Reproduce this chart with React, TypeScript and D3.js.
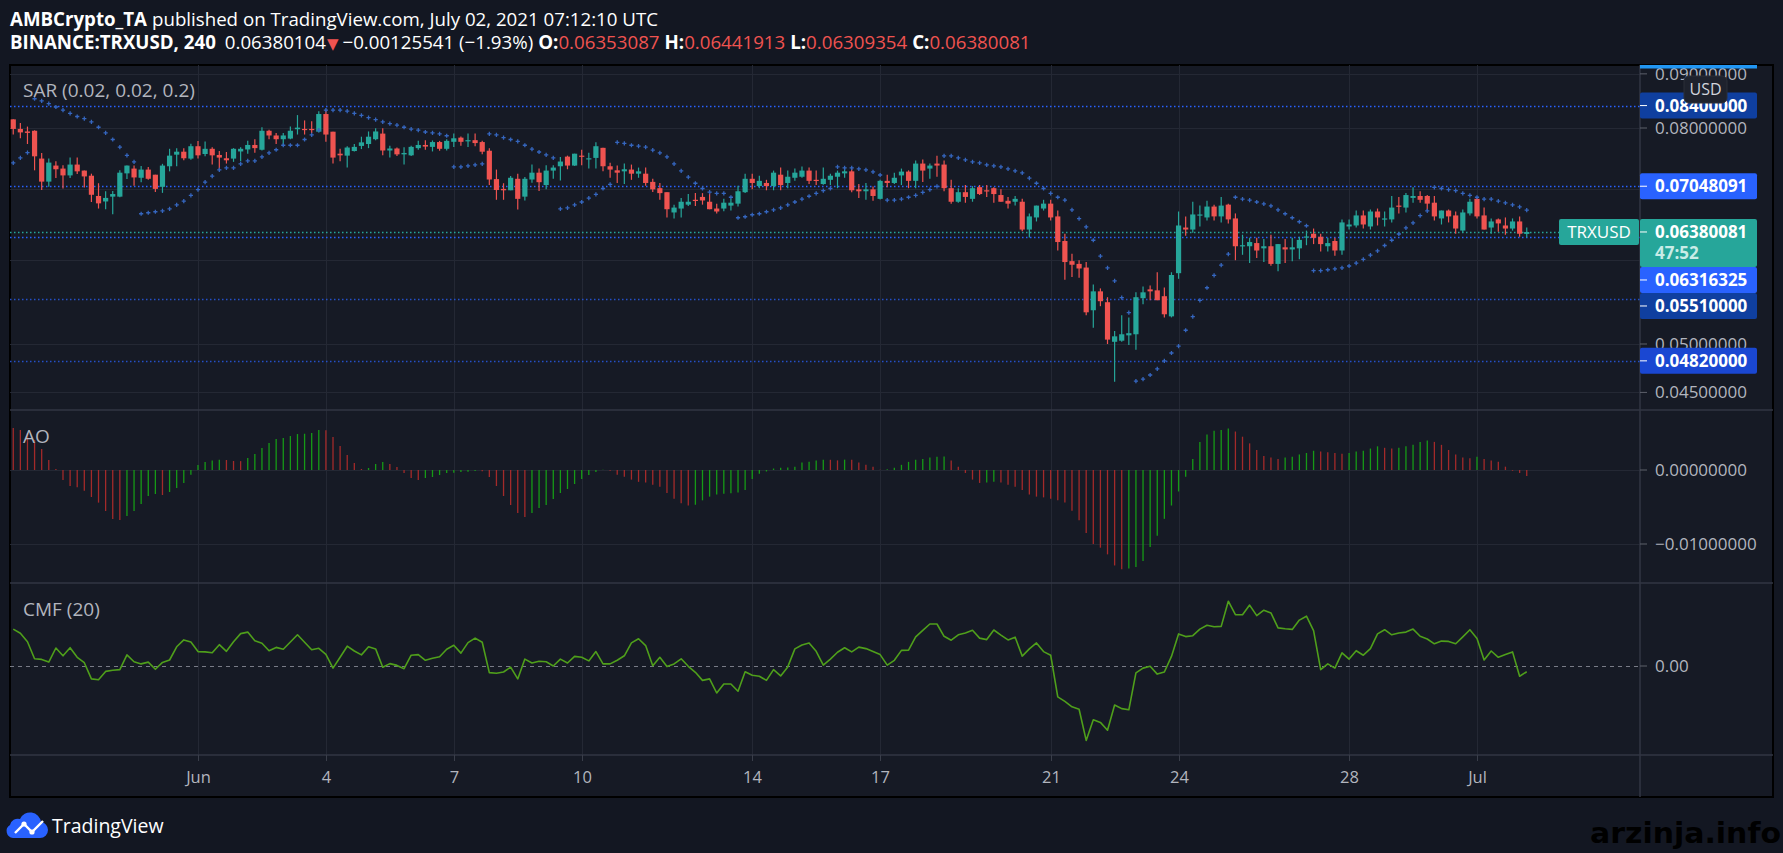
import React, { useEffect, useRef } from 'react'
import * as d3 from 'd3'

// 4h candles, first one opens 27 May 2021 16:00 UTC
const firstBarTime = Date.UTC(2021, 4, 27, 16)
const barMs = 4 * 3600 * 1000

const opens = [
  .08152,.07984,.07940,.07952,.07485,.07119,.07372,.07324,.07216,.07388,.07292,.07211,.06900,.06818,.06890,.06890,.07248,.07324,.07179,.07308,.07227,.07039,.07361,.07549,.07598,.07485,
  .07689,.07560,.07646,.07544,.07490,.07485,.07602,.07635,.07710,.07630,
  .07952,.07871,.07807,.07818,.07979,.07984,.07984,.07936,.08247,.07936,
  .07565,.07533,.07609,.07694,.07726,.07807,.07903,.07618,.07651,.07554,
  .07538,.07657,.07710,.07678,.07759,.07646,.07763,.07834,.07779,.07791,
  .07759,.07614,.07158,.07007,.06986,.07163,.06890,.07152,.07259,.07066,
  .07292,.07361,.07517,.07372,.07533,.07480,.07496,.07662,.07361,.07296,
  .07280,.07308,.07243,.07243,.07115,.07018,.06957,.06657,.06714,.06771,
  .06843,.06886,.06814,.06714,.06714,.06757,.06786,.06957,.07163,.07050,
  .07098,.07050,.07227,.07098,.07179,.07195,.07292,.07147,.07082,.07147,
  .07195,.07248,.07280,.07000,.06971,.07000,.06857,.07131,.07098,.07216,
  .07276,.07131,.07404,.07324,.07404,.07388,.07018,.06814,.06957,.06857,
  .07034,.06986,.07018,.06914,.06828,.06814,.06814,.06414,.06585,.06714,
  .06786,.06600,.06256,.05988,.05952,.05905,.05381,.05607,.05476,.05024,
  .05036,.05095,.05107,.05524,.05631,.05619,.05548,.05310,.05833,.06442,
  .06414,.06618,.06585,.06743,.06600,.06771,.06571,.06185,.06185,.06228,
  .06157,.06185,.05952,.06171,.06142,.06157,.06304,.06356,.06314,.06185,
  .06256,.06128,.06457,.06471,.06614,.06457,.06671,.06561,.06557,.06757,
  .06728,.06871,.06900,.06900,.06800,.06571,.06685,.06614,.06400,.06643,
  .06857,.06614,.06442,.06557,.06471,.06428,.06528,.06353,
]
const highs = [
  .08152,.08089,.08025,.07960,.07577,.07485,.07441,.07377,.07501,.07501,.07292,.07243,.07094,.06971,.06976,.07296,.07372,.07372,.07367,.07351,.07227,.07400,.07646,.07657,.07657,.07731,
  .07775,.07770,.07673,.07609,.07593,.07657,.07673,.07779,.07807,.08013,
  .07968,.07915,.07915,.08025,.08228,.08133,.08120,.08298,.08323,.07936,
  .07646,.07689,.07726,.07850,.07940,.07995,.07995,.07699,.07667,.07673,
  .07699,.07779,.07791,.07786,.07779,.07807,.07903,.07855,.07903,.07903,
  .07779,.07657,.07308,.07094,.07206,.07243,.07190,.07388,.07324,.07377,
  .07377,.07512,.07533,.07565,.07630,.07581,.07754,.07662,.07416,.07372,
  .07404,.07388,.07340,.07340,.07163,.07098,.06957,.06771,.06871,.06929,
  .06943,.06943,.06943,.06786,.06857,.06857,.07055,.07243,.07243,.07211,
  .07147,.07292,.07340,.07292,.07324,.07356,.07340,.07292,.07340,.07243,
  .07292,.07340,.07324,.07082,.07098,.07045,.07147,.07227,.07259,.07324,
  .07296,.07453,.07469,.07404,.07533,.07453,.07147,.07018,.07066,.07050,
  .07066,.07066,.07034,.07000,.06886,.06900,.06857,.06643,.06757,.06843,
  .06843,.06685,.06356,.06086,.06000,.05976,.05691,.05643,.05536,.05143,
  .05322,.05298,.05595,.05667,.05679,.05845,.05655,.05845,.06671,.06600,
  .06814,.06757,.06828,.06771,.06886,.06786,.06643,.06342,.06299,.06299,
  .06285,.06342,.06214,.06285,.06299,.06314,.06399,.06428,.06356,.06299,
  .06299,.06557,.06557,.06685,.06685,.06700,.06714,.06671,.06900,.06886,
  .06943,.07034,.06971,.06914,.06900,.06685,.06700,.06671,.06700,.06857,
  .06871,.06728,.06571,.06571,.06585,.06571,.06600,.06442,
]
const lows = [
  .07887,.07823,.07726,.07296,.06990,.07039,.07174,.07013,.07174,.07238,.07029,.06810,.06714,.06704,.06632,.06881,.07158,.07055,.07110,.07147,.06961,.06947,.07280,.07361,.07457,.07464,
  .07485,.07522,.07388,.07313,.07404,.07432,.07441,.07565,.07581,.07619,
  .07807,.07726,.07689,.07807,.07887,.07887,.07915,.07924,.07763,.07404,
  .07441,.07340,.07602,.07641,.07657,.07791,.07538,.07501,.07528,.07388,
  .07528,.07630,.07630,.07602,.07614,.07618,.07678,.07699,.07678,.07689,
  .07554,.07066,.06843,.06843,.06986,.06700,.06833,.07103,.06976,.07000,
  .07163,.07135,.07313,.07367,.07377,.07324,.07324,.07280,.07179,.07098,
  .07082,.07147,.07179,.07055,.06961,.06843,.06585,.06571,.06585,.06753,
  .06753,.06771,.06704,.06643,.06675,.06685,.06743,.06943,.07000,.07018,
  .06986,.06986,.06986,.07018,.07131,.07179,.07082,.07066,.07071,.07066,
  .07018,.07179,.06957,.06871,.06843,.06828,.06847,.07034,.07082,.07066,
  .07018,.07018,.07115,.07163,.07195,.06971,.06786,.06800,.06800,.06814,
  .06914,.06886,.06800,.06814,.06714,.06757,.06389,.06304,.06528,.06685,
  .06542,.06128,.05750,.05786,.05774,.05322,.05179,.05429,.05000,.04605,
  .05024,.04990,.04938,.05453,.05500,.05500,.05298,.05298,.05762,.06328,
  .06370,.06457,.06542,.06542,.06514,.06500,.06000,.06071,.05964,.06028,
  .05976,.05929,.05857,.05964,.05988,.06014,.06199,.06214,.06114,.06114,
  .06057,.06071,.06414,.06442,.06428,.06414,.06471,.06457,.06514,.06643,
  .06657,.06800,.06800,.06685,.06542,.06485,.06514,.06356,.06370,.06614,
  .06571,.06414,.06356,.06385,.06342,.06399,.06314,.06309,
]
const closes = [
  .07984,.07924,.07915,.07522,.07119,.07420,.07313,.07216,.07388,.07280,.07200,.06918,.06790,.06871,.06929,.07259,.07372,.07184,.07308,.07163,.07007,.07372,.07533,.07598,.07490,.07689,
  .07538,.07646,.07538,.07501,.07457,.07646,.07646,.07710,.07657,.07952,
  .07871,.07807,.07871,.07952,.08006,.07973,.07973,.08247,.07887,.07501,
  .07538,.07667,.07678,.07754,.07850,.07940,.07618,.07651,.07554,.07577,
  .07678,.07710,.07683,.07759,.07646,.07779,.07823,.07763,.07791,.07742,
  .07598,.07152,.06990,.06986,.07179,.06857,.07163,.07259,.07110,.07292,
  .07340,.07437,.07372,.07565,.07522,.07490,.07689,.07361,.07308,.07259,
  .07313,.07243,.07280,.07098,.07000,.06943,.06704,.06728,.06814,.06814,
  .06833,.06833,.06704,.06671,.06800,.06800,.06971,.07163,.07098,.07131,
  .07050,.07259,.07066,.07195,.07259,.07292,.07131,.07131,.07163,.07211,
  .07259,.07280,.06986,.06971,.07000,.06900,.07131,.07098,.07179,.07276,
  .07131,.07404,.07292,.07372,.07372,.07018,.06814,.06957,.06886,.07018,
  .06929,.06976,.06929,.06814,.06786,.06857,.06414,.06600,.06757,.06786,
  .06585,.06242,.05976,.05941,.05893,.05357,.05607,.05488,.05048,.05084,
  .05107,.05119,.05536,.05595,.05607,.05500,.05334,.05810,.06471,.06414,
  .06628,.06628,.06743,.06600,.06757,.06557,.06185,.06199,.06242,.06128,
  .06185,.05952,.06214,.06142,.06171,.06271,.06318,.06299,.06214,.06228,
  .06128,.06514,.06485,.06614,.06485,.06671,.06585,.06571,.06728,.06747,
  .06914,.06900,.06843,.06786,.06600,.06685,.06600,.06428,.06657,.06814,
  .06600,.06414,.06528,.06500,.06428,.06528,.06356,.06380,
]
const sarValues = [
  .07416,.07496,.07581,.08526,.08488,.08437,.08374,.08317,.08260,.08203,.08165,.08108,.08013,.07915,.07802,.07673,.07538,.07432,.06638,.06653,.06667,.06681,.06710,.06767,.06824,.06910,
  .06996,.07110,.07206,.07303,.07335,.07335,.07400,.07448,.07448,.07512,
  .07577,.07630,.07705,.07705,.07705,.07802,.07882,.07963,.08317,.08317,
  .08317,.08298,.08260,.08222,.08184,.08146,.08108,.08076,.08051,.08013,
  .07979,.07963,.07931,.07915,.07899,.07866,.07351,.07351,.07367,.07383,
  .07400,.07899,.07882,.07834,.07802,.07770,.07705,.07641,.07593,.07544,
  .07496,.06710,.06724,.06767,.06810,.06867,.06924,.07013,.07077,.07754,
  .07738,.07705,.07689,.07673,.07625,.07577,.07512,.07400,.07287,.07190,
  .07094,.07013,.06957,.06939,.06939,.06881,.06581,.06595,.06624,.06638,
  .06667,.06695,.06724,.06767,.06810,.06853,.06896,.06939,.06981,.07013,
  .07351,.07335,.07335,.07319,.07303,.07271,.07222,.06838,.06838,.06853,
  .06881,.06910,.06953,.06996,.07045,.07528,.07528,.07496,.07464,.07432,
  .07416,.07383,.07367,.07351,.07319,.07287,.07255,.07174,.07094,.07013,
  .06939,.06881,.06838,.06695,.06567,.06452,.06266,.06053,.05901,.05735,
  .05532,.05354,.04612,.04633,.04674,.04737,.04820,.04903,.04976,.05152,
  .05306,.05497,.05651,.05806,.05937,.06081,.06881,.06853,.06838,.06810,
  .06781,.06753,.06695,.06638,.06581,.06524,.06467,.05866,.05866,.05877,
  .05889,.05901,.05925,.05961,.06010,.06067,.06124,.06195,.06266,.06352,
  .06438,.06509,.06610,.06681,.07029,.07013,.06996,.06981,.06939,.06910,
  .06881,.06853,.06853,.06824,.06796,.06767,.06738,.06690,
]
const aoValues = [
  .00568,.00541,.00496,.00405,.00284,.00135,.00014,-.00135,-.00216,-.00234,-.00279,-.00365,-.00441,-.00554,-.00662,-.00676,-.00622,-.00554,-.00459,-.00351,-.00324,-.00338,-.00297,-.00243,-.00176,-.00063,
  .00068,.00108,.00130,.00138,.00135,.00122,.00120,.00162,.00216,.00297,
  .00365,.00419,.00432,.00459,.00486,.00490,.00500,.00541,.00538,.00446,
  .00324,.00203,.00095,.00014,.00027,.00081,.00108,.00081,.00041,-.00041,
  -.00108,-.00135,-.00108,-.00095,-.00068,-.00041,-.00036,-.00027,-.00022,-.00014,
  -.00018,-.00095,-.00216,-.00351,-.00473,-.00581,-.00635,-.00581,-.00514,-.00473,
  -.00392,-.00311,-.00257,-.00189,-.00122,-.00068,-.00027,.00002,-.0001,-.00063,
  -.0009,-.0013,-.0016,-.0017,-.002,-.00225,-.0031,-.0039,-.0045,-.0048,
  -.0047,-.0041,-.0036,-.0033,-.0032,-.00315,-.00305,-.0027,-.0012,-.0005,
  -.0002,.0002,.0003,.00035,.00045,.001,.0011,.0013,.0014,.00138,
  .0013,.0014,.00138,.001,.0007,.00045,.00005,.0001,.0003,.0007,
  .0011,.0014,.0015,.0017,.00178,.00182,.0013,.00045,-.0004,-.0013,
  -.00175,-.0017,-.0016,-.0017,-.002,-.00225,-.0027,-.0033,-.0036,-.0037,
  -.0039,-.0041,-.0044,-.0055,-.0068,-.0085,-.01,-.0105,-.0114,-.0129,
  -.0134,-.0133,-.0131,-.0123,-.0104,-.0089,-.0066,-.0048,-.0029,-.0009,
  .0015,.0038,.0048,.0053,.0054,.0056,.0052,.0045,.0036,.0027,
  .0019,.0017,.0015,.0017,.0018,.0021,.0023,.0026,.0025,.0024,
  .0023,.0022,.0023,.0025,.0026,.0029,.0032,.003,.0029,.003,
  .0032,.0034,.0038,.004,.0038,.0034,.0027,.0021,.0017,.0016,
  .0018,.0015,.0013,.0011,.00045,-.0001,-.0004,-.0008,
]
const cmfValues = [
  .123,.109,.081,.024,.022,.013,.060,.034,.061,.029,.011,-.043,-.046,-.018,-.014,-.012,.037,.014,.007,.013,-.011,.012,.020,.064,.087,.080,
  .048,.047,.044,.071,.049,.081,.108,.113,.084,.076,
  .051,.062,.056,.080,.104,.079,.054,.059,.039,-.007,
  .029,.066,.050,.037,.064,.057,-.004,.008,.002,-.009,
  .036,.038,.019,.026,.031,.056,.069,.043,.078,.093,
  .079,-.022,-.024,-.020,-.004,-.043,.023,.010,.016,.014,
  .000,.023,.010,.032,.029,.017,.048,.007,.007,.019,
  .034,.077,.091,.068,.001,.029,-.002,.007,.024,-.001,
  -.021,-.048,-.043,-.090,-.060,-.060,-.084,-.019,-.031,-.034,
  -.048,-.012,-.033,-.003,.057,.070,.077,.049,.003,.023,
  .046,.061,.047,.063,.058,.048,.038,.003,.019,.052,
  .053,.097,.119,.140,.140,.099,.086,.104,.110,.119,
  .093,.088,.120,.103,.087,.096,.033,.057,.077,.048,
  .036,-.103,-.118,-.136,-.144,-.248,-.179,-.188,-.214,-.130,
  -.142,-.146,-.023,-.007,-.001,-.027,-.020,.032,.107,.098,
  .101,.123,.136,.131,.132,.216,.171,.171,.203,.168,
  .186,.177,.127,.124,.122,.153,.166,.118,-.012,.007,
  -.007,.044,.023,.051,.036,.058,.107,.121,.104,.110,
  .113,.123,.099,.090,.074,.083,.082,.074,.097,.121,
  .092,.020,.050,.029,.038,.047,-.034,-.019,
]

const tickDays = [
  Date.UTC(2021, 5, 1), Date.UTC(2021, 5, 4), Date.UTC(2021, 5, 7), Date.UTC(2021, 5, 10),
  Date.UTC(2021, 5, 14), Date.UTC(2021, 5, 17), Date.UTC(2021, 5, 21), Date.UTC(2021, 5, 24),
  Date.UTC(2021, 5, 28), Date.UTC(2021, 6, 1),
]
const tickLabels = ['Jun', '4', '7', '10', '14', '17', '21', '24', '28', 'Jul']
const priceTicks = [0.09, 0.08, 0.07, 0.06, 0.05, 0.045]
const aoTicks = [0, -0.01]
const levelValues = [0.084, 0.07048091, 0.06316325, 0.0551, 0.0482]
const levelBright = [false, true, true, false, false]
const lastPrice = 0.06380081
const countdown = '47:52'

const W = 1783
const H = 853
const FONT = "'Open Sans', 'Noto Sans', sans-serif"

function App() {
  const svgRef = useRef<SVGSVGElement>(null)

  useEffect(() => {
    document.body.style.margin = '0'
    document.body.style.background = '#131722'
    const svg = d3.select(svgRef.current)
    svg.selectAll('*').remove()

    const left = 10, axisX = 1640, right = 1773
    const top = 65, mainBottom = 410, aoBottom = 583, cmfBottom = 755, bottom = 797

    const x = d3.scaleUtc()
      .domain([new Date(tickDays[0]), new Date(tickDays[tickDays.length - 1])])
      .range([198, 1477])
    const y = d3.scaleLog().domain([0.08, 0.05]).range([128, 344])
    const yAo = d3.scaleLinear().domain([0, -0.01]).range([470, 544])
    const yCmf = d3.scaleLinear().domain([0, 0.1]).range([666, 636])
    const xBar = (i: number) => x(new Date(firstBarTime + i * barMs))
    const fmt8 = (v: number) => d3.format('.8f')(v).replace('-', '\u2212')

    svg.append('rect').attr('width', W).attr('height', H).attr('fill', '#131722')
    svg.append('rect')
      .attr('x', left).attr('y', top)
      .attr('width', right - left).attr('height', bottom - top)
      .attr('fill', '#161a25').attr('stroke', '#000').attr('stroke-width', 2)

    const defs = svg.append('defs')
    const clip = (id: string, y0: number, y1: number) =>
      defs.append('clipPath').attr('id', id).append('rect')
        .attr('x', left).attr('y', y0).attr('width', axisX - left).attr('height', y1 - y0)
    clip('clipMain', top, mainBottom)
    clip('clipAo', mainBottom, aoBottom)
    clip('clipCmf', aoBottom, cmfBottom)

    // grid
    const grid = svg.append('g').attr('stroke', '#242834').attr('stroke-width', 1)
    tickDays.forEach(t => {
      const gx = Math.round(x(new Date(t))) + 0.5
      grid.append('line').attr('x1', gx).attr('x2', gx).attr('y1', top).attr('y2', cmfBottom)
    })
    priceTicks.forEach(p => {
      const gy = Math.round(y(p)) + 0.5
      grid.append('line').attr('x1', left).attr('x2', axisX).attr('y1', gy).attr('y2', gy)
    })
    aoTicks.forEach(v => {
      const gy = Math.round(yAo(v)) + 0.5
      grid.append('line').attr('x1', left).attr('x2', axisX).attr('y1', gy).attr('y2', gy)
    })

    const sep = svg.append('g').attr('stroke', '#323643').attr('stroke-width', 1.5)
    ;[mainBottom, aoBottom, cmfBottom].forEach(sy =>
      sep.append('line').attr('x1', left).attr('x2', right).attr('y1', sy).attr('y2', sy))
    sep.append('line').attr('x1', axisX).attr('x2', axisX).attr('y1', top).attr('y2', bottom)

    // x axis
    const xa = svg.append('g')
    tickDays.forEach((t, i) => {
      const tx = Math.round(x(new Date(t))) + 0.5
      xa.append('line').attr('x1', tx).attr('x2', tx).attr('y1', cmfBottom).attr('y2', cmfBottom + 6)
        .attr('stroke', '#3a3e4a')
      xa.append('text').attr('x', tx).attr('y', 777).attr('dy', '0.35em')
        .attr('text-anchor', 'middle').attr('fill', '#b2b5be')
        .attr('font-family', FONT).attr('font-size', 16.5).text(tickLabels[i])
    })

    // label boxes on the price axis (stacked so they do not overlap)
    const lastTop = y(lastPrice) - 13
    const blocks: [number, number][] = [[lastTop, lastTop + 48]]
    const levelTops = levelValues.map(v => {
      let t = y(v) - 13
      blocks.forEach(([b0, b1]) => { if (t < b1 && t + 26 > b0) t = b1 })
      blocks.push([t, t + 26])
      return t
    })
    const hidden = (yy: number) => blocks.some(([b0, b1]) => yy - 5 > b0 && yy + 5 < b1)

    // price axis labels
    const pa = svg.append('g').attr('font-family', FONT).attr('font-size', 17)
    const axisLabel = (yy: number, label: string) => {
      pa.append('line').attr('x1', axisX).attr('x2', axisX + 7).attr('y1', yy).attr('y2', yy)
        .attr('stroke', '#5d606b')
      if (hidden(yy)) return
      pa.append('text').attr('x', 1655).attr('y', yy).attr('dy', '0.35em')
        .attr('fill', '#b2b5be').text(label)
    }
    priceTicks.forEach(p => axisLabel(y(p), fmt8(p)))
    aoTicks.forEach(v => axisLabel(yAo(v), fmt8(v)))
    axisLabel(yCmf(0), '0.00')

    // horizontal level lines
    const main = svg.append('g').attr('clip-path', 'url(#clipMain)')
    levelValues.forEach((v, i) => {
      const ly = Math.round(y(v)) + 0.5
      main.append('line').attr('x1', left).attr('x2', axisX).attr('y1', ly).attr('y2', ly)
        .attr('stroke', levelBright[i] || i === 0 ? '#2962ff' : '#2450c8')
        .attr('stroke-width', 1.4).attr('stroke-dasharray', '1.5 2.5')
    })
    const lpy = Math.round(y(lastPrice)) + 0.5
    main.append('line').attr('x1', left).attr('x2', 1559).attr('y1', lpy).attr('y2', lpy)
      .attr('stroke', '#26a69a').attr('stroke-width', 1.4).attr('stroke-dasharray', '1.5 2.5')

    // candles
    const candles = main.append('g')
    opens.forEach((o, i) => {
      const c = closes[i]
      const cx = xBar(i)
      const col = c >= o ? '#26a69a' : '#ef5350'
      candles.append('line').attr('x1', cx).attr('x2', cx)
        .attr('y1', y(highs[i])).attr('y2', y(lows[i]))
        .attr('stroke', col).attr('stroke-width', 1.2)
      const y0 = y(Math.max(o, c)), y1 = y(Math.min(o, c))
      candles.append('rect').attr('x', cx - 2.6).attr('width', 5.2)
        .attr('y', y0).attr('height', Math.max(1.2, y1 - y0)).attr('fill', col)
    })

    // parabolic SAR
    main.append('path')
      .attr('d', sarValues.map((s, i) => {
        const sx = xBar(i), sy = y(s)
        return `M${sx - 2.1},${sy}h4.2M${sx},${sy - 2.1}v4.2`
      }).join(''))
      .attr('stroke', '#3566bf').attr('stroke-width', 1.3).attr('fill', 'none')

    // AO histogram
    const ao = svg.append('g').attr('clip-path', 'url(#clipAo)')
    aoValues.forEach((v, i) => {
      const up = i > 0 && v > aoValues[i - 1]
      ao.append('line').attr('x1', xBar(i)).attr('x2', xBar(i))
        .attr('y1', yAo(0)).attr('y2', yAo(v))
        .attr('stroke', up ? '#169a16' : '#a32a2a').attr('stroke-width', 1.3)
    })

    // CMF
    const cmf = svg.append('g').attr('clip-path', 'url(#clipCmf)')
    cmf.append('line').attr('x1', left).attr('x2', axisX)
      .attr('y1', yCmf(0) + 0.5).attr('y2', yCmf(0) + 0.5)
      .attr('stroke', '#787b86').attr('stroke-dasharray', '4 4')
    const cmfLine = d3.line<number>().x((_, i) => xBar(i)).y(d => yCmf(d))
    cmf.append('path').attr('d', cmfLine(cmfValues) || '')
      .attr('fill', 'none').attr('stroke', '#4f9f1b').attr('stroke-width', 1.6)
      .attr('stroke-linejoin', 'round')

    // indicator titles
    const titles = [['SAR (0.02, 0.02, 0.2)', 90], ['AO', 436], ['CMF (20)', 609]] as const
    titles.forEach(([t, ty]) =>
      svg.append('text').attr('x', 23).attr('y', ty).attr('dy', '0.35em')
        .attr('font-family', FONT).attr('font-size', 19).attr('fill', '#b2b5be').text(t))

    // price labels on the axis
    const labels = svg.append('g').attr('font-family', FONT).attr('font-size', 17)
    labels.append('rect').attr('x', axisX).attr('y', top).attr('width', 117).attr('height', 3.5)
      .attr('fill', '#2196f3')
    levelValues.forEach((v, i) => {
      const t = levelTops[i]
      labels.append('rect').attr('x', axisX).attr('y', t).attr('width', 117).attr('height', 26)
        .attr('rx', 2).attr('fill', levelBright[i] ? '#2962ff' : i === 4 ? '#1a47d2' : '#0f3f9f')
      labels.append('line').attr('x1', axisX).attr('x2', axisX + 7)
        .attr('y1', t + 13).attr('y2', t + 13).attr('stroke', '#ffffff')
      labels.append('text').attr('x', 1655).attr('y', t + 13).attr('dy', '0.35em')
        .attr('fill', '#fff').attr('font-weight', 700).text(d3.format('.8f')(v))
    })
    labels.append('rect').attr('x', axisX).attr('y', lastTop).attr('width', 117).attr('height', 48)
      .attr('rx', 2).attr('fill', '#26a69a')
    labels.append('line').attr('x1', axisX).attr('x2', axisX + 7)
      .attr('y1', lastTop + 13).attr('y2', lastTop + 13).attr('stroke', '#ffffff')
    labels.append('text').attr('x', 1655).attr('y', lastTop + 13).attr('dy', '0.35em')
      .attr('fill', '#fff').attr('font-weight', 700).text(d3.format('.8f')(lastPrice))
    labels.append('text').attr('x', 1655).attr('y', lastTop + 34).attr('dy', '0.35em')
      .attr('fill', '#c9ece7').attr('font-weight', 700).text(countdown)
    labels.append('rect').attr('x', 1559).attr('y', lastTop).attr('width', 80).attr('height', 26)
      .attr('rx', 2).attr('fill', '#26a69a')
    labels.append('text').attr('x', 1599).attr('y', lastTop + 13).attr('dy', '0.35em')
      .attr('text-anchor', 'middle').attr('fill', '#fff').text('TRXUSD')
    labels.append('rect').attr('x', 1684).attr('y', 76).attr('width', 43).attr('height', 27)
      .attr('rx', 5).attr('fill', '#1e222d').attr('stroke', '#2a2e39')
    labels.append('text').attr('x', 1705.5).attr('y', 89.5).attr('dy', '0.35em')
      .attr('text-anchor', 'middle').attr('fill', '#d1d4dc').attr('font-size', 16).text('USD')

    // header
    const head = svg.append('g').attr('font-family', FONT).attr('font-size', 18.7).attr('fill', '#ffffff')
    const l1 = head.append('text').attr('x', 10).attr('y', 26)
    l1.append('tspan').attr('font-weight', 700).text('AMBCrypto_TA')
    l1.append('tspan').attr('dx', 5).text('published on TradingView.com, July 02, 2021 07:12:10 UTC')
    const l2 = head.append('text').attr('x', 10).attr('y', 49)
    l2.append('tspan').attr('font-weight', 700).text('BINANCE:TRXUSD, 240')
    l2.append('tspan').attr('dx', 9).text('0.06380104')
    l2.append('tspan').attr('fill', '#ef5350').attr('font-family', 'DejaVu Sans').attr('font-size', 15)
      .attr('dx', 1).text('\u25BC')
    l2.append('tspan').attr('dx', 4).text('\u22120.00125541 (\u22121.93%)')
    const ohlc = [['O:', '0.06353087'], ['H:', '0.06441913'], ['L:', '0.06309354'], ['C:', '0.06380081']]
    ohlc.forEach(([k, v]) => {
      l2.append('tspan').attr('dx', 5).attr('font-weight', 700).text(k)
      l2.append('tspan').attr('fill', '#ef5350').text(v)
    })

    // footer logo
    const logo = svg.append('g')
    logo.append('path')
      .attr('d', 'M13,838 a7,7 0 0 1 -3,-13 a8,8 0 0 1 10,-6 a11,11 0 0 1 21,3 a8,8 0 0 1 7,8 a8,8 0 0 1 -8,8 z')
      .attr('fill', '#2962ff')
    logo.append('path').attr('d', 'M15,833 L24,824 L32,832 L43,821')
      .attr('stroke', '#fff').attr('stroke-width', 2.4).attr('fill', 'none')
    ;[[24, 824], [32, 832]].forEach(([cx, cy]) =>
      logo.append('circle').attr('cx', cx).attr('cy', cy).attr('r', 2.6).attr('fill', '#fff'))
    svg.append('text').attr('x', 52).attr('y', 826).attr('dy', '0.35em')
      .attr('font-family', FONT).attr('font-size', 19.5).attr('fill', '#fff').text('TradingView')

    svg.append('text').attr('x', 1590).attr('y', 843)
      .attr('font-family', "'DejaVu Sans', sans-serif").attr('font-weight', 700).attr('font-size', 29)
      .attr('textLength', 191).attr('lengthAdjust', 'spacingAndGlyphs')
      .attr('fill', '#000').text('arzinja.info')
  }, [])

  return <svg ref={svgRef} width={W} height={H} style={{ display: 'block' }} />
}

export default App
